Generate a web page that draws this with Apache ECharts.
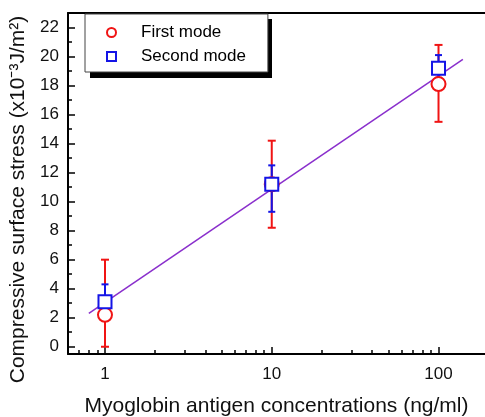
<!DOCTYPE html>
<html>
<head>
<meta charset="utf-8">
<script src="https://cdn.jsdelivr.net/npm/echarts@6/dist/echarts.min.js"></script>
<style>
  html, body { margin: 0; padding: 0; background: #fff; }
  #chart { width: 485px; height: 417px; }
</style>
</head>
<body>
<div id="chart"></div>
<script>
  // concentrations in ng/ml, stress in 10^-3 J/m^2
  var concentrations = [1, 10, 100];
  var firstMode = [2.2, 11.2, 18.1];
  var firstLow = [0, 8.2, 15.5];
  var firstHigh = [6.0, 14.2, 20.8];
  var secondMode = [3.1, 11.2, 19.2];
  var secondLow = [2.35, 9.3, 18.4];
  var secondHigh = [4.3, 12.5, 20.1];
  // linear fit (stress vs log concentration)
  var fitX = [0.8, 140];
  var fitY = [2.3, 19.8];

  var xMajorTicks = [1, 10, 100];
  var xMinorTicks = [0.7, 0.8, 0.9, 2, 3, 4, 5, 6, 7, 8, 9, 20, 30, 40, 50, 60, 70, 80, 90];
  var yMajorTicks = [0, 2, 4, 6, 8, 10, 12, 14, 16, 18, 20, 22];
  var yMinorTicks = [1, 3, 5, 7, 9, 11, 13, 15, 17, 19, 21];
  var xRange = [0.6, 190];
  var yRange = [-0.5, 23];

  var RED = '#f01414';
  var BLUE = '#1414e6';
  var PURPLE = '#8a2fcc';
  var FONT = 'Liberation Sans';

  function lg (v) { return Math.log10(v) }

  function points (ys) {
    return concentrations.map(function (c, i) { return [lg(c), ys[i]] })
  }
  function bars (lows, highs) {
    return concentrations.map(function (c, i) { return [lg(c), lows[i], highs[i]] })
  }

  function errorBar (capWidth) {
    return function (params, api) {
      var x = api.value(0);
      var top = api.coord([x, api.value(2)]);
      var bottom = api.coord([x, api.value(1)]);
      var style = { stroke: api.visual('color'), lineWidth: 2 };
      var h = capWidth / 2;
      return {
        type: 'group',
        children: [
          { type: 'line', shape: { x1: top[0], y1: top[1], x2: bottom[0], y2: bottom[1] }, style: style },
          { type: 'line', shape: { x1: top[0] - h, y1: top[1], x2: top[0] + h, y2: top[1] }, style: style },
          { type: 'line', shape: { x1: bottom[0] - h, y1: bottom[1], x2: bottom[0] + h, y2: bottom[1] }, style: style }
        ]
      };
    };
  }

  var axisCommon = {
    type: 'value',
    splitLine: { show: false },
    axisLine: { show: false, onZero: false },
    axisTick: { show: false },
    axisLabel: { show: false }
  };

  var option = {
    animation: false,
    backgroundColor: '#fff',
    grid: { left: 68, top: 13, right: 0, bottom: 63, outerBoundsMode: 'none' },
    // drop shadow behind the legend box
    graphic: [{
      type: 'rect',
      left: 90,
      top: 19,
      shape: { width: 182, height: 59 },
      style: { fill: '#000' },
      z: 8
    }],
    legend: {
      data: ['First mode', 'Second mode'],
      orient: 'vertical',
      left: 85,
      top: 14,
      z: 10,
      padding: [10, 22, 7, 21],
      itemGap: 7,
      itemWidth: 9,
      itemHeight: 9,
      itemStyle: { borderWidth: 1.5 },
      backgroundColor: '#fff',
      borderColor: '#444',
      borderWidth: 1,
      borderRadius: 0,
      textStyle: { fontFamily: FONT, fontSize: 17, color: '#000', padding: [0, 0, 0, 20] }
    },
    xAxis: [
      {
        type: 'value',
        min: lg(xRange[0]),
        max: lg(xRange[1]),
        position: 'bottom',
        splitLine: { show: false },
        axisLine: { show: true, onZero: false, lineStyle: { color: '#000', width: 2 } },
        axisTick: { show: true, inside: true, length: 7, customValues: xMajorTicks.map(lg), lineStyle: { color: '#000', width: 1.5 } },
        axisLabel: {
          show: true,
          customValues: xMajorTicks.map(lg),
          formatter: function (v) { return String(Math.round(Math.pow(10, v))) },
          fontFamily: FONT, fontSize: 17, color: '#111', margin: 12
        },
        name: 'Myoglobin antigen concentrations (ng/ml)',
        nameLocation: 'middle',
        nameGap: 42,
        nameTextStyle: { fontFamily: FONT, fontSize: 21, color: '#111' }
      },
      Object.assign({}, axisCommon, {
        min: lg(xRange[0]),
        max: lg(xRange[1]),
        position: 'bottom',
        axisTick: { show: true, inside: true, length: 4, customValues: xMinorTicks.map(lg), lineStyle: { color: '#000', width: 1.5 } }
      }),
      Object.assign({}, axisCommon, {
        min: lg(xRange[0]),
        max: lg(xRange[1]),
        position: 'top',
        axisLine: { show: true, onZero: false, lineStyle: { color: '#000', width: 2 } }
      })
    ],
    yAxis: [
      {
        type: 'value',
        min: yRange[0],
        max: yRange[1],
        position: 'left',
        splitLine: { show: false },
        axisLine: { show: true, onZero: false, lineStyle: { color: '#000', width: 2 } },
        axisTick: { show: true, inside: true, length: 7, customValues: yMajorTicks, lineStyle: { color: '#000', width: 1.5 } },
        axisLabel: { show: true, customValues: yMajorTicks, fontFamily: FONT, fontSize: 17, color: '#111', margin: 9 },
        name: 'Compressive surface stress (x10\u207B\u00B3J/m\u00B2)',
        nameLocation: 'middle',
        nameGap: 32,
        nameTextStyle: { fontFamily: FONT, fontSize: 21, color: '#111', padding: [0, 32, 0, 0] }
      },
      Object.assign({}, axisCommon, {
        min: yRange[0],
        max: yRange[1],
        position: 'left',
        axisTick: { show: true, inside: true, length: 4, customValues: yMinorTicks, lineStyle: { color: '#000', width: 1.5 } }
      })
    ],
    series: [
      {
        name: 'Fit',
        type: 'line',
        data: fitX.map(function (x, i) { return [lg(x), fitY[i]] }),
        showSymbol: false,
        lineStyle: { color: PURPLE, width: 1.5 },
        z: 1
      },
      {
        name: 'First mode error',
        type: 'custom',
        renderItem: errorBar(8),
        data: bars(firstLow, firstHigh),
        itemStyle: { color: RED },
        encode: { x: 0, y: [1, 2] },
        z: 2
      },
      {
        name: 'Second mode error',
        type: 'custom',
        renderItem: errorBar(7),
        data: bars(secondLow, secondHigh),
        itemStyle: { color: BLUE },
        encode: { x: 0, y: [1, 2] },
        z: 3
      },
      {
        name: 'First mode',
        type: 'scatter',
        symbol: 'emptyCircle',
        symbolSize: 14,
        data: points(firstMode),
        itemStyle: { color: RED, borderWidth: 2.5, opacity: 1 },
        z: 4
      },
      {
        name: 'Second mode',
        type: 'scatter',
        symbol: 'emptyRect',
        symbolSize: 13,
        data: points(secondMode),
        itemStyle: { color: BLUE, borderWidth: 2.5, opacity: 1 },
        z: 5
      }
    ]
  };

  var chart = echarts.init(document.getElementById('chart'));
  chart.setOption(option);
</script>
</body>
</html>
